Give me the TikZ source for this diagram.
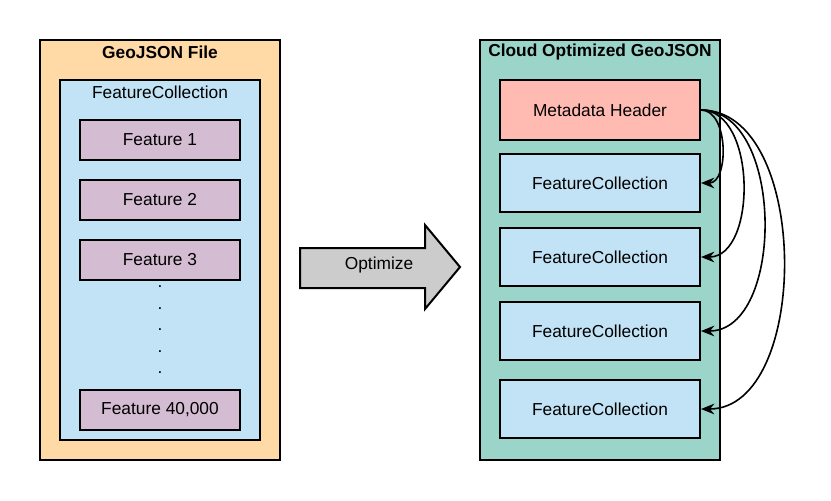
\documentclass[tikz,border=0pt]{standalone}
\usepackage{fontspec}
\setmainfont{Liberation Sans}
\usetikzlibrary{arrows.meta}
\definecolor{fileorange}{HTML}{FFD9A6}
\definecolor{collblue}{HTML}{C1E3F5}
\definecolor{featpurple}{HTML}{D4BCD2}
\definecolor{cogteal}{HTML}{9BD4C9}
\definecolor{headsalmon}{HTML}{FFBBB2}
\definecolor{arrowgray}{HTML}{CCCCCC}
\begin{document}
\begin{tikzpicture}[x=0.75pt,y=-0.75pt]
	\tikzstyle{box} = [draw=black, line width=1.5pt, inner sep=0, font=\fontsize{13}{15}\selectfont]
	\tikzstyle{invisible} = [outer sep=0,inner sep=0,minimum size=0, font=\fontsize{13}{15}\selectfont]
	\tikzstyle{title} = [invisible, font=\fontsize{13}{15}\selectfont\bfseries]
	\tikzstyle{feature} = [box, fill=featpurple, minimum width=120pt, minimum height=30pt]
	\tikzstyle{coll} = [box, fill=collblue, minimum width=150pt, minimum height=44pt]
	\tikzstyle{link} = [-{Stealth[length=10pt,width=8pt]}, line width=1.2pt]

	\useasboundingbox (0,0) rectangle (831,500);

	% left side: plain GeoJSON
	\node [box, fill=fileorange, minimum width=180pt, minimum height=315pt] (file) at (160,250) {};
	\node [title] (filetitle) at (160,52) {GeoJSON File};
	\node [box, fill=collblue, minimum width=150pt, minimum height=270pt] (fcleft) at (160,260) {};
	\node [invisible] (fclefttitle) at (160,92) {FeatureCollection};
	\foreach \c/\y in {1/140,2/200,3/260}
	{
		\node [feature] (feat\c) at (160,\y) {Feature \c};
	}
	\node [feature] (featlast) at (160,410) {Feature 40,000};
	\foreach \y in {287,309,330,352,373}
	{
		\node [invisible] at (160,\y) {.};
	}

	% optimize arrow
	\draw [line width=1.5pt, fill=arrowgray, line join=miter] (300,248) -- (425,248) -- (425,225) -- (460,267) --
	(425,309) -- (425,288) -- (300,288) -- cycle;
	\node [invisible] (optimize) at (379,265) {Optimize};

	% right side: cloud optimized
	\node [box, fill=cogteal, minimum width=180pt, minimum height=315pt] (cog) at (600,250) {};
	\node [title] (cogtitle) at (600,52) {Cloud Optimized GeoJSON};
	\node [box, fill=headsalmon, minimum width=150pt, minimum height=45pt] (meta) at (600,110) {Metadata Header};
	\foreach \n/\y in {1/183,2/257,3/331,4/409}
	{
		\node [coll] (fc\n) at (600,\y) {FeatureCollection};
	}
	\foreach \n/\d in {1/28,2/56,3/84,4/110}
	{
		\draw [link] (meta.east) .. controls +(\d,0) and +(\d,0) .. (fc\n.east);
	}
\end{tikzpicture}
\end{document}
